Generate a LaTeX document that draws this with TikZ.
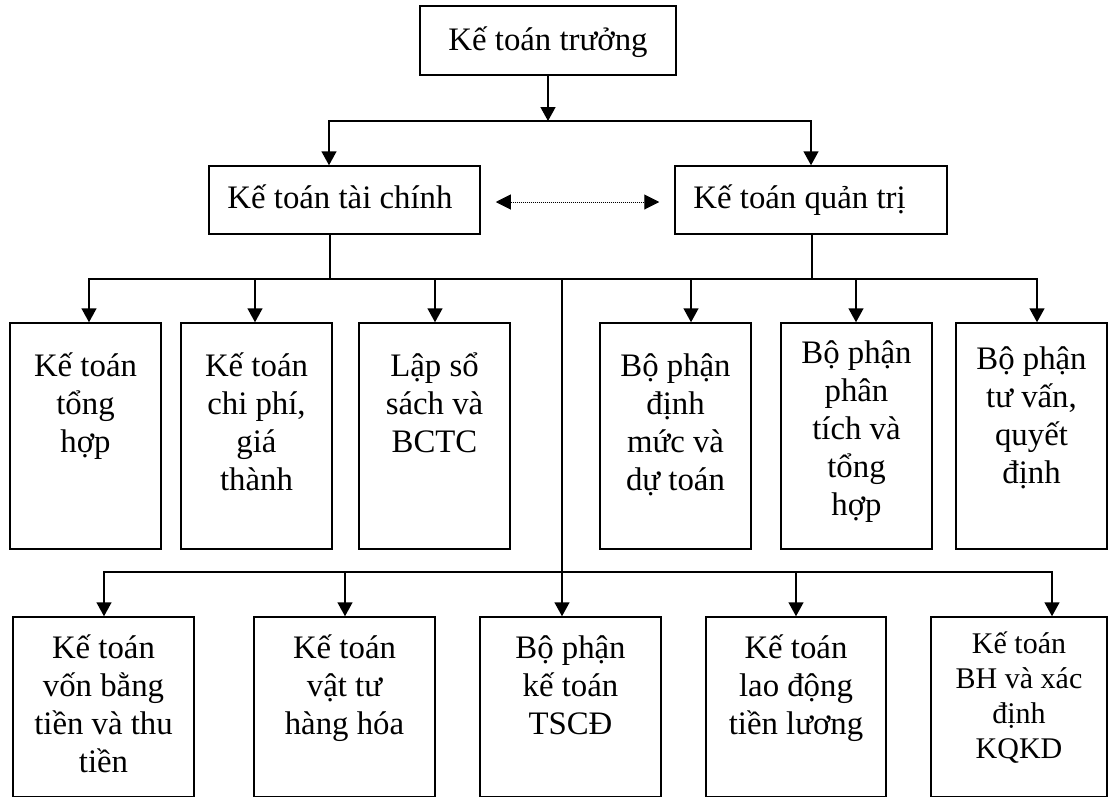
\documentclass[tikz,border=0pt]{standalone}
\usepackage{fontspec}
\setmainfont{Liberation Serif}
\usetikzlibrary{arrows.meta}
% fixed first-line height so text nodes can be placed by their first baseline
\newcommand\lh{\rule{0pt}{35pt}}
\begin{document}
\begin{tikzpicture}[x=1pt,y=-1pt,
  box/.style={draw, line width=1.5pt, inner sep=0pt},
  txt/.style={align=center, inner sep=0pt, anchor=north, font=\fontsize{32.8}{38}\selectfont},
  small/.style={font=\fontsize{30}{35}\selectfont},
  link/.style={line width=1.5pt, line cap=rect},
  arr/.style={line width=1.5pt, line cap=rect, -{Triangle[width=15pt,length=14pt]}},
  rel/.style={line width=1pt, dash pattern=on 1pt off 1pt,
    {Triangle[width=15pt,length=15pt]}-{Triangle[width=15pt,length=15pt]}}
]
\useasboundingbox (0,0) rectangle (1110,798);

% ---- head
\node[box, minimum width=256pt, minimum height=69pt] (kt) at (548,40.5) {};
\node[txt] (kt-t) at ([yshift=-10pt]kt.north) {\lh Kế toán trưởng};

% ---- second level
\node[box, minimum width=271pt, minimum height=68pt] (tc) at (344.5,200) {};
\node[txt, anchor=north west] (tc-t) at ([xshift=19pt,yshift=-8pt]tc.north west) {\lh Kế toán tài chính};
\node[box, minimum width=272pt, minimum height=68pt] (qt) at (811,200) {};
\node[txt, anchor=north west] (qt-t) at ([xshift=19pt,yshift=-8pt]qt.north west) {\lh Kế toán quản trị};

\draw[rel] ([xshift=15pt,yshift=-2pt]tc.east) -- ([xshift=-15pt,yshift=-2pt]qt.west);

\coordinate (b1l) at (329,121);
\coordinate (b1r) at (811,121);
\draw[arr] (kt.south) -- (kt.south |- b1l);
\draw[arr] (b1r) -- (b1l) -- (b1l |- tc.north);
\draw[arr] (b1r) -- (qt.north);

% ---- third level
\foreach \n/\x in {31/85.5, 32/256.5, 33/434.5, 34/675.5, 35/856.5, 36/1031.5}
  \node[box, minimum width=151pt, minimum height=226pt] (b\n) at (\x,436) {};

\node[txt] (t31) at ([yshift=-19pt]b31.north) {\lh Kế toán\\tổng\\hợp};
\node[txt] (t32) at ([yshift=-19pt]b32.north) {\lh Kế toán\\chi phí,\\giá\\thành};
\node[txt] (t33) at ([yshift=-19pt]b33.north) {\lh Lập sổ\\sách và\\BCTC};
\node[txt] (t34) at ([yshift=-19pt]b34.north) {\lh Bộ phận\\định\\mức và\\dự toán};
\node[txt] (t35) at ([yshift=-6pt]b35.north) {\lh Bộ phận\\phân\\tích và\\tổng\\hợp};
\node[txt] (t36) at ([yshift=-12pt]b36.north) {\lh Bộ phận\\tư vấn,\\quyết\\định};

\coordinate (j31) at (89,279);
\coordinate (j32) at (255,279);
\coordinate (j33) at (435,279);
\coordinate (j34) at (691,279);
\coordinate (j35) at (856,279);
\coordinate (j36) at (1037,279);
\coordinate (j3a) at (330,279);
\coordinate (j3b) at (812,279);
\coordinate (j3c) at (562,279);

\draw[link] (j3a |- tc.south) -- (j3a);
\draw[link] (j3b |- qt.south) -- (j3b);
\draw[arr] (j36) -- (j31) -- (j31 |- b31.north);
\foreach \n in {32,33,34,35}
  \draw[arr] (j\n) -- (j\n |- b\n.north);
\draw[arr] (j31) -- (j36) -- (j36 |- b36.north);

% ---- fourth level
\node[box, minimum width=181pt, minimum height=179.5pt] (b41) at (103.5,706.75) {};
\node[box, minimum width=181pt, minimum height=179.5pt] (b42) at (344.5,706.75) {};
\node[box, minimum width=181pt, minimum height=179.5pt] (b43) at (570.5,706.75) {};
\node[box, minimum width=180pt, minimum height=179.5pt] (b44) at (796,706.75) {};
\node[box, minimum width=176pt, minimum height=179.5pt] (b45) at (1019,706.75) {};

\node[txt] (t41) at ([yshift=-7pt]b41.north) {\lh Kế toán\\vốn bằng\\tiền và thu\\tiền};
\node[txt] (t42) at ([yshift=-7pt]b42.north) {\lh Kế toán\\vật tư\\hàng hóa};
\node[txt] (t43) at ([yshift=-7pt]b43.north) {\lh Bộ phận\\kế toán\\TSCĐ};
\node[txt] (t44) at ([yshift=-7pt]b44.north) {\lh Kế toán\\lao động\\tiền lương};
\node[txt, small] (t45) at ([yshift=-2pt]b45.north) {\lh Kế toán\\BH và xác\\định\\KQKD};

\coordinate (j41) at (104,572);
\coordinate (j42) at (345,572);
\coordinate (j44) at (796,572);
\coordinate (j45) at (1052,572);

\draw[arr] (j3c) -- (j3c |- b43.north);
\draw[arr] (j45) -- (j41) -- (j41 |- b41.north);
\draw[arr] (j42) -- (j42 |- b42.north);
\draw[arr] (j44) -- (j44 |- b44.north);
\draw[arr] (j41) -- (j45) -- (j45 |- b45.north);
\end{tikzpicture}
\end{document}
